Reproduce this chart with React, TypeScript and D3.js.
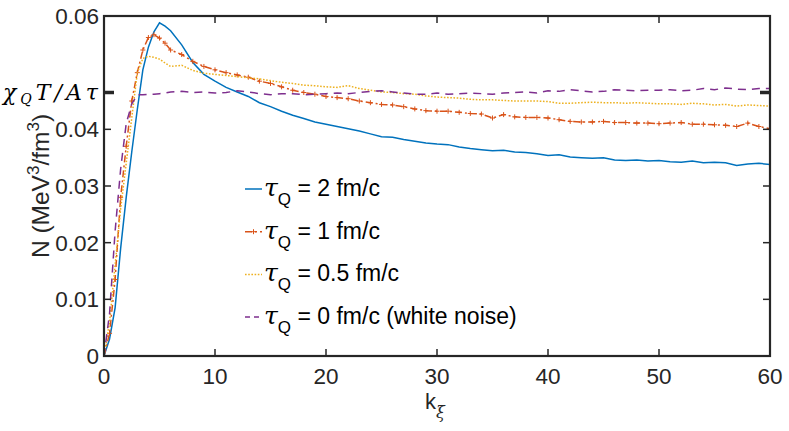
import React from 'react';
import { scaleLinear, line } from 'd3';

// k grid (finer on the steep rise)
const kValues = [
    0, 0.5, 1, 1.5, 2, 2.5, 3, 3.5, 4, 4.5, 5, 5.5, 6, 7, 8, 9, 10, 11, 12, 13, 14, 15, 16, 17, 18, 19, 20, 21, 22, 23,
    24, 25, 26, 27, 28, 29, 30, 31, 32, 33, 34, 35, 36, 37, 38, 39, 40, 41, 42, 43, 44, 45, 46, 47, 48, 49, 50, 51, 52,
    53, 54, 55, 56, 57, 58, 59, 60,
];

const tau2 = [
    0, 0.003, 0.0085, 0.019, 0.028, 0.036, 0.0435, 0.0505, 0.0545, 0.0572, 0.0588, 0.0582, 0.0574, 0.0549, 0.0518,
    0.0497, 0.0485, 0.0474, 0.0466, 0.0458, 0.0447, 0.044, 0.0432, 0.0425, 0.0419, 0.0413, 0.0409, 0.0405, 0.0401,
    0.0397, 0.0392, 0.0387, 0.0386, 0.0382, 0.0379, 0.0376, 0.0374, 0.0373, 0.0369, 0.0366, 0.0364, 0.0362, 0.0363,
    0.036, 0.0359, 0.0357, 0.0354, 0.0355, 0.0351, 0.035, 0.0349, 0.035, 0.0346, 0.0345, 0.0346, 0.0344, 0.0345, 0.0343,
    0.0342, 0.0344, 0.0341, 0.0342, 0.0341, 0.0336, 0.0339, 0.034, 0.0338,
];

const tau1 = [
    0, 0.004, 0.0135, 0.028, 0.037, 0.045, 0.05, 0.054, 0.0562, 0.0567, 0.0561, 0.0552, 0.054, 0.0532, 0.052, 0.0511,
    0.0505, 0.05, 0.0496, 0.0492, 0.0485, 0.0481, 0.0475, 0.0469, 0.0465, 0.0462, 0.0458, 0.0456, 0.0454, 0.045, 0.0447,
    0.0444, 0.0443, 0.044, 0.0436, 0.0433, 0.0432, 0.0432, 0.043, 0.0428, 0.0427, 0.042, 0.0426, 0.0422, 0.0421, 0.0421,
    0.042, 0.0417, 0.0414, 0.0413, 0.0413, 0.0414, 0.0412, 0.0412, 0.0411, 0.0411, 0.041, 0.0411, 0.0412, 0.0409,
    0.0409, 0.0408, 0.0407, 0.0405, 0.0411, 0.0405, 0.0401,
];

const tau05 = [
    0, 0.006, 0.016, 0.026, 0.034, 0.042, 0.05, 0.0525, 0.0529, 0.0527, 0.0524, 0.0517, 0.0511, 0.0513, 0.0504, 0.0499,
    0.0497, 0.0495, 0.0493, 0.0491, 0.0489, 0.0486, 0.0483, 0.0481, 0.0478, 0.0477, 0.0475, 0.0474, 0.0477, 0.0472,
    0.0469, 0.0466, 0.0465, 0.0463, 0.0462, 0.0459, 0.0457, 0.0456, 0.0455, 0.0453, 0.0452, 0.0452, 0.0451, 0.045, 0.045,
    0.045, 0.0449, 0.0446, 0.0446, 0.0447, 0.0448, 0.0447, 0.0447, 0.0446, 0.0447, 0.0446, 0.0445, 0.0445, 0.0444,
    0.0446, 0.0445, 0.0443, 0.0444, 0.0441, 0.0443, 0.0442, 0.0441,
];

const tau0 = [
    0, 0.0075, 0.022, 0.033, 0.041, 0.0445, 0.0461, 0.0461, 0.0462, 0.0462, 0.0463, 0.0464, 0.0466, 0.0467, 0.0465,
    0.0466, 0.0464, 0.0465, 0.0468, 0.0466, 0.0463, 0.0461, 0.0463, 0.0463, 0.0461, 0.0462, 0.0463, 0.0464, 0.0463,
    0.0465, 0.0467, 0.0468, 0.0466, 0.0464, 0.0462, 0.0462, 0.0464, 0.0462, 0.0463, 0.0464, 0.0463, 0.0462, 0.0464,
    0.0465, 0.0466, 0.0464, 0.0468, 0.0467, 0.047, 0.0468, 0.0466, 0.0467, 0.047, 0.0469, 0.0468, 0.0469, 0.0469, 0.047,
    0.0468, 0.0469, 0.0472, 0.047, 0.0473, 0.0471, 0.047, 0.0472, 0.0472,
];

const xTicks = [0, 10, 20, 30, 40, 50, 60];
const yTicks = [0, 0.01, 0.02, 0.03, 0.04, 0.06];
const yTickLabels = ['0', '0.01', '0.02', '0.03', '0.04', '0.06'];
const markValue = 0.0465; // the chi_Q T / A tau level

const legendNames = ['2 fm/c', '1 fm/c', '0.5 fm/c', '0 fm/c (white noise)'];

const series = [
    { values: tau2, color: '#0072BD', dash: 'none', legendDash: 'none', plus: false },
    { values: tau1, color: '#D95319', dash: '7,3,2,3', legendDash: '7,3,2,3', plus: true },
    { values: tau05, color: '#EDB120', dash: '1.6,1.6', legendDash: '1.6,1.6', plus: false },
    { values: tau0, color: '#7E2F8E', dash: '8,6', legendDash: '5,4', plus: false },
];

const W = 789;
const H = 431;
const left = 104;
const right = 770;
const top = 16;
const bottom = 356;
const axisColor = '#262626';
const sans = '"Liberation Sans", Arial, Helvetica, sans-serif';
const serif = '"DejaVu Serif", serif';

export default function App() {
    const x = scaleLinear().domain([0, 60]).range([left, right]);
    const y = scaleLinear().domain([0, 0.06]).range([bottom, top]);

    const pathFor = (vals: number[]) =>
        line<number>()
            .x((d, i) => x(kValues[i]))
            .y((d) => y(d))(vals) || '';

    return (
        <svg width={W} height={H} style={{ position: 'absolute', left: 0, top: 0, background: '#fff' }}>
            <defs>
                <clipPath id="plotArea">
                    <rect x={left} y={top} width={right - left} height={bottom - top} />
                </clipPath>
            </defs>

            {/* series */}
            <g clipPath="url(#plotArea)">
                {series.map((s, si) => (
                    <g key={si}>
                        <path
                            d={pathFor(s.values)}
                            fill="none"
                            stroke={s.color}
                            strokeWidth={1.5}
                            strokeDasharray={s.dash}
                        />
                        {s.plus &&
                            s.values.map((v, i) => (
                                <path
                                    key={i}
                                    d={`M${x(kValues[i]) - 2.5},${y(v)}h5M${x(kValues[i])},${y(v) - 2.5}v5`}
                                    stroke={s.color}
                                    strokeWidth={1}
                                />
                            ))}
                    </g>
                ))}
            </g>

            {/* axes box */}
            <rect x={left} y={top} width={right - left} height={bottom - top} fill="none" stroke={axisColor} strokeWidth={2.2} />

            {/* x ticks */}
            {xTicks.map((t) => (
                <g key={'x' + t}>
                    <line x1={x(t)} x2={x(t)} y1={bottom} y2={bottom - 7} stroke={axisColor} strokeWidth={1.5} />
                    <line x1={x(t)} x2={x(t)} y1={top} y2={top + 7} stroke={axisColor} strokeWidth={1.5} />
                    <text x={x(t)} y={384} textAnchor="middle" fontFamily={sans} fontSize={22.5} fill={axisColor}>
                        {t}
                    </text>
                </g>
            ))}

            {/* y ticks */}
            {yTicks.map((t, i) => (
                <g key={'y' + t}>
                    <line x1={left} x2={left + 7} y1={y(t)} y2={y(t)} stroke={axisColor} strokeWidth={1.5} />
                    <line x1={right} x2={right - 7} y1={y(t)} y2={y(t)} stroke={axisColor} strokeWidth={1.5} />
                    <text
                        x={99}
                        y={y(t)}
                        dy="0.36em"
                        textAnchor="end"
                        fontFamily={sans}
                        fontSize={22.5}
                        fill={axisColor}
                    >
                        {yTickLabels[i]}
                    </text>
                </g>
            ))}

            {/* chi_Q T / A tau mark */}
            <line x1={left} x2={left + 10} y1={y(markValue)} y2={y(markValue)} stroke={axisColor} strokeWidth={3.5} />
            <line x1={right} x2={right - 10} y1={y(markValue)} y2={y(markValue)} stroke={axisColor} strokeWidth={3.5} />
            <text
                x={3}
                y={y(markValue)}
                dy="0.32em"
                textLength={95}
                lengthAdjust="spacing"
                fontFamily={serif}
                fontStyle="italic"
                fontSize={22}
                fill="#000"
            >
                χ
                <tspan fontSize={14} dy={4}>
                    Q
                </tspan>
                <tspan dy={-4}>T/Aτ</tspan>
            </text>

            {/* axis labels */}
            <text x={435} y={409} textAnchor="middle" fontFamily={sans} fontSize={22} fill={axisColor}>
                k
                <tspan fontSize={16} dy={9} fontFamily={serif} fontStyle="italic">
                    ξ
                </tspan>
            </text>
            <text
                transform={`translate(49,${(top + bottom) / 2}) rotate(-90)`}
                textAnchor="middle"
                fontFamily={sans}
                fontSize={24.5}
                fill={axisColor}
            >
                N (MeV
                <tspan fontSize={17} dy={-10}>
                    3
                </tspan>
                <tspan dy={10}>/fm</tspan>
                <tspan fontSize={17} dy={-10}>
                    3
                </tspan>
                <tspan dy={10}>)</tspan>
            </text>

            {/* legend */}
            {series.map((s, i) => {
                const ly = 189 + i * 42.7;
                return (
                    <g key={'lg' + i}>
                        <line
                            x1={245}
                            x2={262}
                            y1={ly}
                            y2={ly}
                            stroke={s.color}
                            strokeWidth={1.5}
                            strokeDasharray={s.legendDash}
                        />
                        {s.plus && <path d={`M${251},${ly}h5M${253.5},${ly - 2.5}v5`} stroke={s.color} strokeWidth={1} />}
                        <text x={264} y={ly + 7} fontFamily={sans} fontSize={23} fill="#000">
                            <tspan fontFamily={serif} fontStyle="italic" fontSize={25}>
                                τ
                            </tspan>
                            <tspan fontSize={17} dy={9}>
                                Q
                            </tspan>
                            <tspan dy={-9}> = {legendNames[i]}</tspan>
                        </text>
                    </g>
                );
            })}
        </svg>
    );
}
